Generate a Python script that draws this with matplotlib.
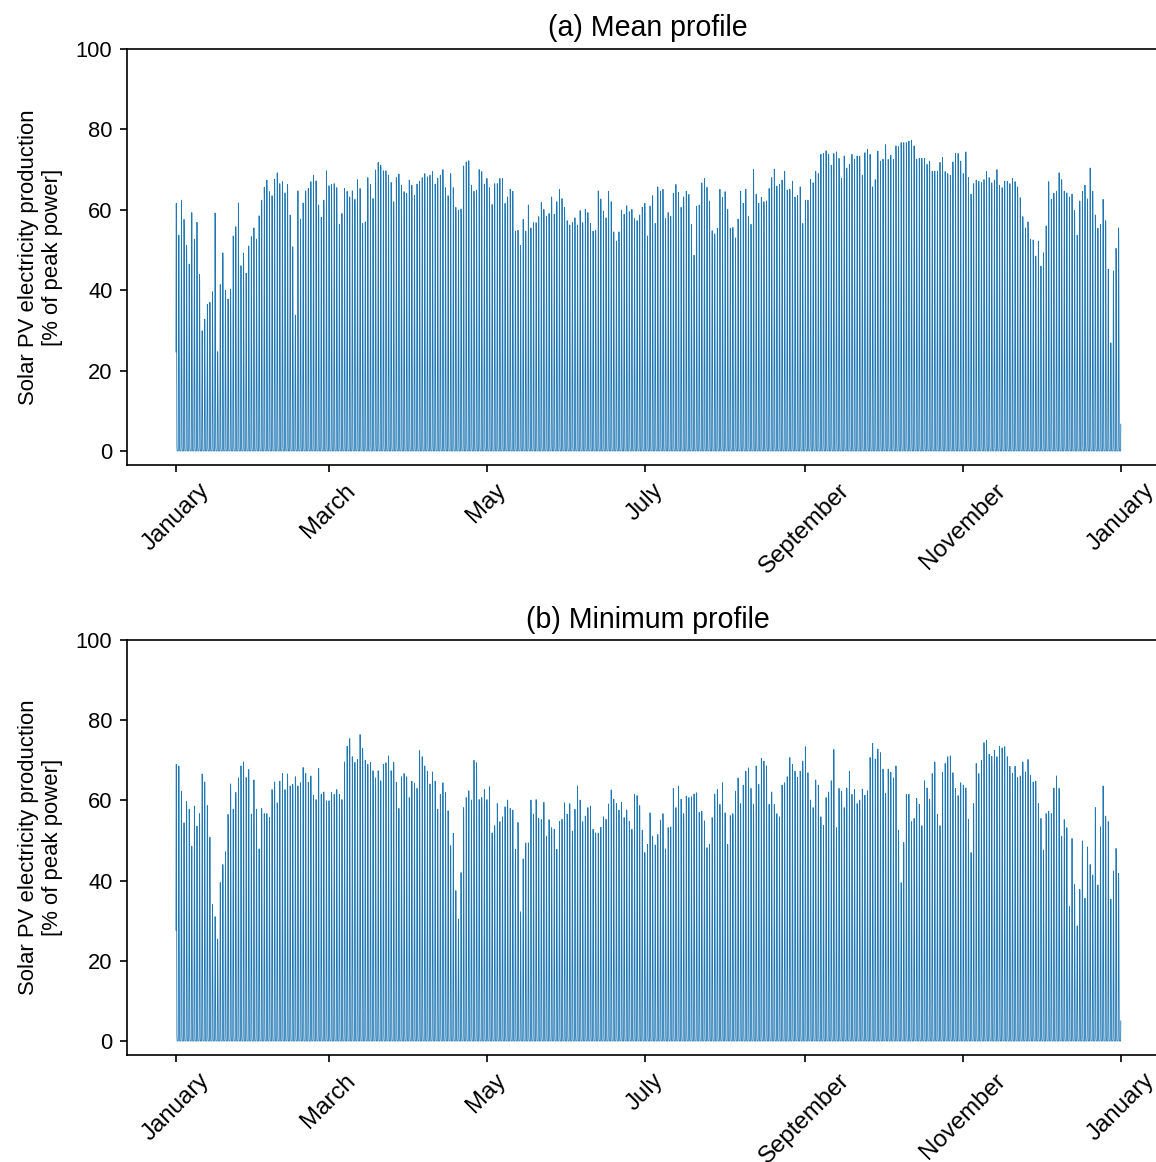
import numpy as np
import pandas as pd
import matplotlib
matplotlib.use("Agg")
import matplotlib.pyplot as plt
import matplotlib.dates as mdates

plt.rcParams['font.family'] = ['Liberation Sans', 'DejaVu Sans']

YEAR_START = "2019-01-01"
TITLES = ["(a) Mean profile", "(b) Minimum profile"]
YLABEL = "Solar PV electricity production\n[% of peak power]"
YTICKS = [0, 20, 40, 60, 80, 100]
TICK_MONTHS = [1, 3, 5, 7, 9, 11]

# fraction of the daily peak reached in each hour of the day (UTC-shifted profile)
DAY_SHAPE = [0.40, 0.72, 0.92, 1.00, 0.96, 0.82, 0.60, 0.36, 0.14, 0.02,
             0.0, 0.0, 0.0, 0.0, 0.0, 0.0, 0.0, 0.0, 0.0, 0.0,
             0.0, 0.0, 0.0, 0.12]

# daily peak of the mean profile [% of peak power]
MEAN_PEAKS = [
    61.6, 53.7, 62.4, 57.6, 51.2, 46.5, 59.3, 52.7, 56.9, 43.9,
    29.9, 32.8, 36.5, 37.0, 39.6, 59.2, 24.7, 41.4, 49.3, 40.0,
    37.8, 40.3, 53.5, 55.8, 61.7, 46.1, 49.2, 44.2, 51.0, 53.3,
    55.5, 52.7, 58.5, 62.4, 65.6, 67.4, 64.5, 63.5, 67.6, 69.2,
    66.5, 67.0, 64.2, 66.3, 58.7, 50.8, 33.8, 64.7, 57.7, 61.7,
    64.7, 65.3, 67.0, 68.6, 67.2, 61.2, 58.1, 62.4, 69.7, 66.0,
    66.3, 66.5,
    65.5, 56.4, 59.1, 65.3, 64.6, 63.2, 64.7, 62.6, 67.5, 65.3,
    56.6, 57.0, 68.0, 66.3, 62.8, 69.9, 71.8, 71.1, 69.7, 69.7,
    68.6, 66.8, 62.0, 68.0, 68.9, 66.1, 64.5, 64.1, 67.4, 66.1,
    63.6, 66.4, 67.1, 68.0, 69.0, 68.2, 68.6, 69.5, 66.4, 67.8,
    68.6, 70.0, 65.5, 63.5, 69.0, 65.5, 60.6, 59.9, 60.2, 70.9,
    71.9, 72.2, 66.1, 64.6, 64.9, 70.0, 69.5, 66.4, 67.8, 65.5,
    61.3, 66.5,
    66.5, 67.8, 67.8, 61.6, 63.2, 65.1, 64.6, 54.7, 54.9, 51.1,
    57.6, 54.7, 61.2, 55.5, 56.8, 56.8, 58.3, 61.8, 60.1, 58.4,
    59.1, 63.2, 58.9, 62.0, 65.1, 62.8, 60.6, 57.3, 56.2, 56.8,
    58.0, 56.2, 59.8, 56.8, 60.1, 59.3, 56.6, 54.7, 54.9, 64.7,
    62.7, 59.7, 58.0, 64.6, 62.0, 54.5, 52.2, 54.5, 59.9, 58.9,
    61.0, 59.5, 60.1, 57.8, 57.3, 58.7, 60.6, 61.6, 53.5, 60.9,
    63.5, 56.6,
    65.7, 64.6, 65.1, 57.8, 59.3, 58.4, 64.1, 66.3, 64.3, 60.6,
    63.2, 64.6, 63.8, 56.4, 48.7, 60.9, 61.2, 66.7, 67.8, 65.6,
    62.2, 54.8, 54.0, 55.4, 65.1, 63.1, 64.5, 60.1, 55.4, 55.6,
    53.0, 57.7, 64.6, 61.6, 65.1, 58.3, 56.4, 70.0, 63.9, 61.6,
    63.1, 62.0, 62.2, 65.3, 68.0, 70.1, 65.9, 66.3, 67.4, 69.6,
    64.9, 65.1, 67.1, 63.2, 63.6, 65.7, 56.6, 62.4, 62.4, 67.6,
    66.7,
    69.6, 69.0, 73.8, 74.0, 74.7, 73.8, 71.1, 74.0, 74.4, 72.8,
    67.8, 73.4, 70.4, 71.3, 73.8, 72.5, 73.4, 73.3, 68.6, 74.2,
    75.0, 73.8, 65.7, 67.5, 74.6, 72.1, 72.6, 76.2, 72.5, 73.6,
    72.5, 75.9, 75.7, 76.7, 76.7, 76.7, 77.1, 77.3, 75.9, 72.6,
    72.8, 72.8, 72.8, 71.3, 72.1, 69.6, 69.6, 69.6, 71.8, 73.0,
    69.5, 69.0, 68.6, 71.9, 74.0, 74.0, 72.1, 69.0, 74.4, 68.0,
    63.9, 66.5,
    67.4, 67.1, 66.8, 67.5, 69.5, 68.0, 66.7, 67.4, 70.0, 66.1,
    65.5, 67.1, 67.1, 66.5, 67.8, 67.0, 65.7, 63.0, 58.3, 55.5,
    57.0, 52.7, 52.5, 48.5, 52.2, 46.0, 49.3, 56.0, 67.0, 62.6,
    64.1, 64.6, 69.2, 67.5, 64.6, 64.2, 63.2, 63.9, 59.8, 53.7,
    62.2, 64.6, 66.1, 62.7, 70.4, 64.6, 58.7, 55.4, 56.4, 62.6,
    57.3, 45.2, 26.9, 44.8, 50.4, 55.5,
]

# daily peak of the minimum profile [% of peak power]
MIN_PEAKS = [
    69.0, 68.6, 62.3, 54.4, 59.7, 57.8, 48.6, 58.6, 53.6, 56.7,
    66.6, 64.6, 58.7, 50.8, 34.1, 31.0, 25.4, 39.5, 44.0, 47.2,
    56.5, 64.1, 57.8, 62.0, 65.6, 68.6, 69.6, 65.7, 67.7, 56.6,
    65.1, 57.8, 47.9, 58.0, 56.7, 56.7, 55.7, 62.7, 64.6, 59.4,
    64.8, 66.7, 62.7, 66.6, 63.6, 64.0, 65.9, 63.6, 64.4, 68.2,
    66.7, 64.5, 66.1, 61.3, 60.2, 68.0, 61.5, 62.1, 59.9, 59.9,
    62.0, 61.5,
    62.7, 61.5, 60.2, 69.6, 73.5, 75.4, 70.9, 69.5, 70.2, 76.4,
    73.0, 70.0, 69.0, 69.5, 67.4, 65.6, 67.4, 64.9, 69.0, 69.4,
    71.1, 67.4, 69.5, 64.5, 58.0, 65.9, 66.7, 65.9, 60.7, 64.8,
    64.2, 63.0, 72.4, 70.9, 68.6, 67.3, 64.1, 67.1, 64.8, 57.8,
    61.5, 64.4, 62.0, 57.4, 48.7, 51.8, 37.5, 30.4, 42.0, 58.2,
    60.7, 62.4, 60.1, 70.0, 69.4, 60.2, 60.7, 62.7, 60.2, 63.4,
    51.9, 53.7,
    59.2, 54.7, 55.9, 58.4, 60.1, 58.0, 57.6, 47.8, 54.5, 32.2,
    45.4, 49.4, 49.4, 60.1, 56.6, 60.2, 55.5, 55.2, 59.5, 51.1,
    55.2, 53.2, 52.8, 47.8, 54.8, 55.3, 59.4, 56.6, 59.2, 52.3,
    57.8, 63.6, 60.1, 54.7, 56.1, 58.2, 58.6, 52.8, 51.9, 51.8,
    53.3, 55.9, 55.3, 59.1, 62.6, 60.3, 59.2, 57.6, 59.5, 55.7,
    57.6, 54.8, 52.8, 61.5, 61.2, 58.7, 52.6, 47.0, 49.0, 56.9,
    51.1, 48.9,
    51.5, 55.1, 56.7, 47.9, 53.2, 53.4, 63.0, 58.2, 63.6, 60.3,
    56.7, 61.1, 60.7, 60.9, 61.6, 61.9, 57.0, 57.3, 54.9, 48.2,
    49.1, 55.7, 61.6, 62.7, 59.0, 64.4, 56.9, 49.0, 56.2, 56.7,
    62.3, 65.6, 59.2, 63.8, 67.3, 68.1, 63.0, 59.1, 68.6, 64.0,
    70.5, 69.8, 68.6, 59.0, 62.1, 59.0, 56.7, 55.9, 63.8, 64.4,
    65.9, 70.7, 69.0, 67.3, 65.7, 67.3, 69.8, 73.4, 66.9, 60.1,
    58.2,
    65.1, 63.8, 55.9, 53.8, 60.7, 62.1, 64.9, 72.7, 53.2, 63.0,
    62.3, 58.2, 63.1, 67.3, 61.5, 62.7, 59.2, 60.1, 62.8, 61.3,
    62.4, 70.7, 74.2, 70.3, 72.8, 71.9, 67.8, 61.7, 67.8, 67.0,
    65.6, 68.6, 52.6, 39.5, 49.5, 61.5, 61.5, 54.7, 55.5, 60.5,
    59.0, 53.7, 64.9, 63.1, 60.3, 66.7, 69.6, 56.5, 53.7, 67.0,
    69.2, 70.9, 71.1, 66.9, 63.0, 61.2, 64.4, 63.8, 63.1, 55.3,
    47.0, 59.2,
    69.2, 66.7, 70.0, 74.4, 75.0, 71.5, 71.0, 72.5, 70.9, 73.5,
    73.1, 73.4, 70.9, 68.5, 66.7, 68.5, 65.7, 66.1, 69.6, 67.1,
    70.2, 66.3, 64.6, 64.8, 59.2, 55.5, 47.6, 56.7, 57.3, 56.7,
    63.1, 66.1, 63.0, 51.1, 55.2, 53.2, 33.5, 50.5, 39.0, 28.7,
    37.8, 49.9, 35.6, 48.4, 44.0, 41.4, 58.2, 38.9, 53.4, 63.6,
    56.1, 54.7, 35.4, 42.4, 48.0, 41.8,
]


def hourly(peaks):
    return (np.asarray(peaks)[:, None] * np.asarray(DAY_SHAPE)[None, :]).ravel()


fig = plt.figure(figsize=(1156 / 150, 1162 / 150), dpi=150)
W = 1156.0
H = 1162.0
left = 127.0 / W
width = 1041.0 / W
positions = [
    [left, (H - 465) / H, width, 416 / H],
    [left, (H - 1055) / H, width, 415 / H],
]

start = pd.Timestamp(YEAR_START)
x_lo = start - pd.Timedelta(days=18.9)
x_hi = start + pd.Timedelta(days=365 + 18.2)

for pos, title, peaks in zip(positions, TITLES, [MEAN_PEAKS, MIN_PEAKS]):
    ax = fig.add_axes(pos)
    values = hourly(peaks)
    times = pd.date_range(YEAR_START, periods=len(values), freq="h")
    ax.plot(times, values, color="#1f77b4", linewidth=0.4)
    ax.set_xlim(x_lo, x_hi)
    ax.set_ylim(-3.5, 100)
    ax.set_yticks(YTICKS)
    ax.xaxis.set_major_locator(mdates.MonthLocator(bymonth=TICK_MONTHS))
    ax.xaxis.set_major_formatter(mdates.DateFormatter("%B"))
    ax.tick_params(axis="x", labelsize=11.5)
    ax.tick_params(axis="y", labelsize=10.5)
    for lbl in ax.get_xticklabels():
        lbl.set_rotation(45)
    ax.set_title(title, fontsize=13.7)
    ax.set_ylabel(YLABEL, fontsize=10.6, labelpad=6)

fig.savefig("out.png", dpi=150)
